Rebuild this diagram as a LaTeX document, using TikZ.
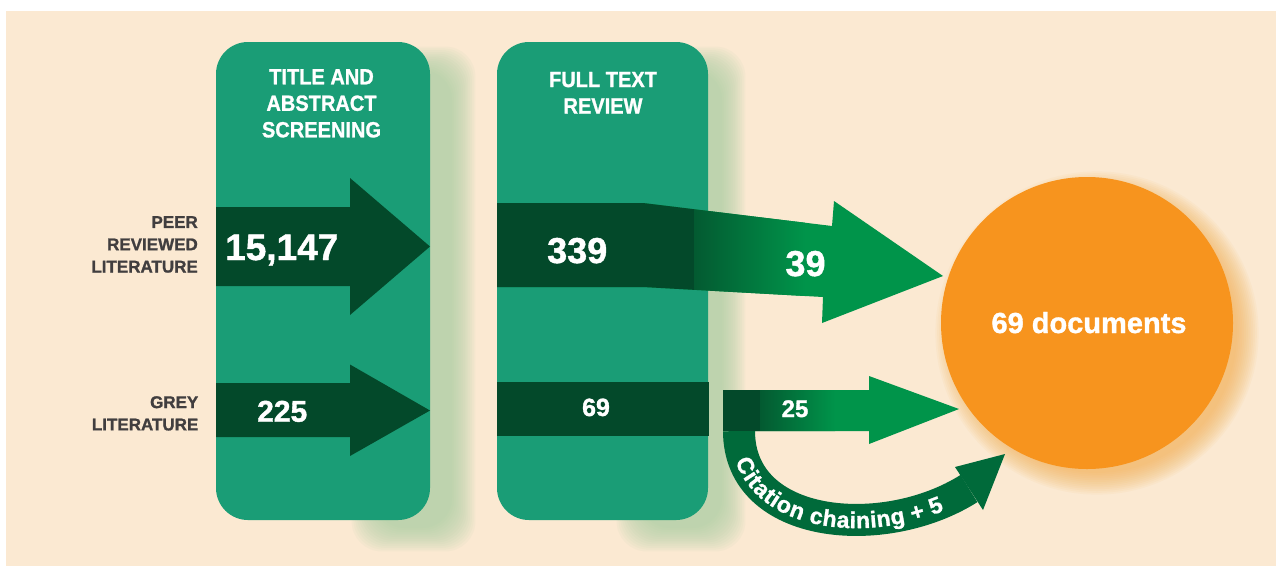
\documentclass[tikz,border=0pt]{standalone}
\usepackage{graphicx}
\usepackage{fontspec}
\setmainfont{Liberation Sans}[BoldFeatures={FakeBold=1.2}]
\usetikzlibrary{decorations.text}
\definecolor{beige}{HTML}{FBE9D2}
\definecolor{colgreen}{HTML}{1A9D76}
\definecolor{darkg}{HTML}{03492A}
\definecolor{darkmid}{HTML}{035A31}
\definecolor{brightg}{HTML}{00944A}
\definecolor{citeg}{HTML}{006A3A}
\definecolor{labelgrey}{HTML}{413E3F}
\definecolor{orangec}{HTML}{F7941E}
\definecolor{shadowg}{HTML}{A5CEA2}
\definecolor{glowc}{HTML}{F4A640}
\newcommand{\sq}[1]{\scalebox{0.91}[1]{#1}}
\newcommand{\fs}[1]{\fontsize{#1pt}{#1pt}\selectfont\bfseries}
\begin{document}
\begin{tikzpicture}[x=1pt,y=-1pt,
  coltitle/.style={font=\fontsize{22pt}{26.5pt}\selectfont\bfseries, text=white, align=center, inner sep=0pt, anchor=north},
  sidelabel/.style={font=\fontsize{17pt}{22.3pt}\selectfont\bfseries, text=labelgrey, align=right, inner sep=0pt, anchor=north east},
  numlabel/.style={text=white, inner sep=0pt},
  colbox/.style={fill=colgreen, rounded corners=32pt},
  shadowbox/.style={fill=shadowg, opacity=0.075, rounded corners=30pt}
]
\useasboundingbox (0,0) rectangle (1276,566);
\fill[white] (0,0) rectangle (1276,566);
\fill[beige] (6,11) rectangle (1276,566);

% shadows of the columns
\foreach \i in {0,...,13}{
  \fill[shadowbox] ({375-1.8*\i},{70-1.8*\i}) rectangle ({452+1.8*\i},{528+1.8*\i});
  \fill[shadowbox] ({640-1.8*\i},{70-1.8*\i}) rectangle ({722+1.8*\i},{528+1.8*\i});
}
% glow of the circle
\foreach \i in {0,...,12}{
  \fill[glowc, opacity=0.06] (1097,333) circle[radius={(140+1.8*\i)*1pt}];
}

% columns
\fill[colbox] (216,42) rectangle (430,520);
\fill[colbox] (497,42) rectangle (708,520);

% peer reviewed arrow in column 1
\fill[darkg] (216,207) -- (350,207) -- (350,178) -- (430,246.5) -- (350,315) -- (350,286) -- (216,286) -- cycle;
% grey literature arrow in column 1
\fill[darkg] (216,383) -- (350,383) -- (350,364.5) -- (430,410.5) -- (350,456) -- (350,437) -- (216,437) -- cycle;
% grey band in column 2
\fill[darkg] (497,382) rectangle (709,436);

% 39 arrow
\begin{scope}
\clip (497,203) -- (643,203) -- (832,226) -- (834,201) -- (943,276) -- (822,323) -- (823,297) -- (643,287) -- (497,287) -- cycle;
\fill[brightg] (490,190) rectangle (950,330);
\fill[darkg] (490,190) rectangle (694,330);
\shade[left color=darkmid, right color=brightg] (694,190) rectangle (805,330);
\end{scope}

% citation chaining arrow
\coordinate (cs) at (739,431);
\coordinate (ca) at (739,530);
\coordinate (cb) at (884.5,542);
\coordinate (ce) at (969,488.5);
\draw[citeg, line width=32pt] (cs) .. controls (ca) and (cb) .. (ce);
\fill[citeg] (955,467) -- (1005,454) -- (983,510) -- cycle;
\path[decorate, decoration={text along path, text color=white,
   text={|\fs{23}|Citation chaining + 5}, text align={left indent=27pt}, raise=-8.2pt}]
   (cs) .. controls (ca) and (cb) .. (ce);

% 25 arrow
\begin{scope}
\clip (723,390) -- (869,390) -- (869,376) -- (959,409) -- (869,444) -- (869,431) -- (723,431) -- cycle;
\fill[brightg] (715,370) rectangle (965,450);
\fill[darkg] (715,370) rectangle (760,450);
\shade[left color=darkmid, right color=brightg] (760,370) rectangle (835,450);
\end{scope}

% result circle
\fill[orangec] (1087,323) circle[radius=146pt];

% texts
\node[coltitle] (t1) at (321.5,69) {\sq{TITLE AND}\\\sq{ABSTRACT}\\\sq{SCREENING}};
\node[coltitle] (t2) at (603,71.7) {\sq{FULL TEXT}\\\sq{REVIEW}};
\node[sidelabel] (peer) at (198,216) {PEER\\REVIEWED\\LITERATURE};
\node[sidelabel] (grey) at (198.5,396) {GREY\\LITERATURE};
\node[numlabel, font=\fs{37}, anchor=base west] (n15147) at (225,260) {15,147};
\node[numlabel, font=\fs{36}, anchor=base west] (n339) at (547,263) {339};
\node[numlabel, font=\fs{36}, anchor=base] (n39) at (805.5,276) {39};
\node[numlabel, font=\fs{30}, anchor=base west] (n225) at (257,421.7) {225};
\node[numlabel, font=\fs{25}, anchor=base] (n69) at (596,416) {69};
\node[numlabel, font=\fs{24}, anchor=base] (n25) at (795,417) {25};
\node[numlabel, font=\fs{29}, anchor=base] (docs) at (1089,333) {69 documents};
\end{tikzpicture}
\end{document}
